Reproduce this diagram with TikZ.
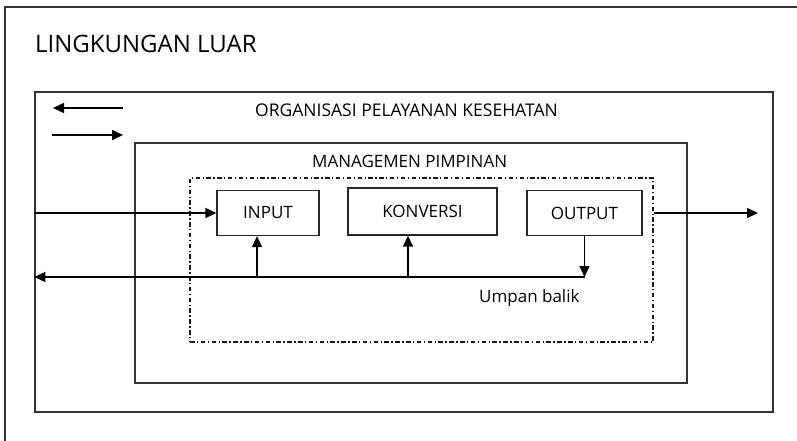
\documentclass[tikz,border=0pt]{standalone}
\usepackage{fontspec}
\setmainfont{Open Sans}
\usetikzlibrary{arrows.meta, positioning, calc}
\tikzset{
	frame/.style={draw=black!80, line width=1.3pt}
}
\tikzset{
	procbox/.style={draw=black!85, line width=1.3pt, inner sep=0pt, font=\fontsize{17}{19}\selectfont}
}
\tikzset{
	flow/.style={line width=1.6pt, -{Triangle[length=11pt,width=10pt]}}
}
\tikzset{
	labeltext/.style={inner sep=0pt, font=\fontsize{17}{19}\selectfont}
}

\begin{document}
\begin{tikzpicture}[x=1pt,y=-1pt]
      \useasboundingbox (0,0) rectangle (797,441);
      % outer environment, cut at the edges
      \draw[frame] (5,441) -- (5,7) -- (797,7);
      \node[labeltext, font=\fontsize{24}{27}\selectfont, anchor=base west] (env) at (35,53) {LINGKUNGAN LUAR};
      % nested frames
      \node[frame, minimum width=738pt, minimum height=320pt] (org) at (404,252) {};
      \node[frame, minimum width=552pt, minimum height=240pt] (mgmt) at (411,263) {};
      \node[draw=black!90, line width=1.2pt, dash pattern=on 4.5pt off 2.5pt on 1.3pt off 2.5pt,
        minimum width=463pt, minimum height=164pt] (proc) at (421.5,260) {};
      \node[labeltext, font=\fontsize{17.5}{20}\selectfont, anchor=base west] (orgname) at (255,117) {ORGANISASI PELAYANAN KESEHATAN};
      \node[labeltext, anchor=base west] (mgmtname) at (312,167) {MANAGEMEN PIMPINAN};
      % process boxes
      \node[procbox, minimum width=102pt, minimum height=45pt] (inp) at (268,213) {INPUT};
      \node[procbox, minimum width=149pt, minimum height=47pt] (konv) at (422.5,211.5) {KONVERSI};
      \node[procbox, minimum width=115pt, minimum height=45pt] (outp) at (584.5,213) {OUTPUT};
      \node[labeltext, anchor=base west] (fbname) at (479,302) {Umpan balik};
      % exchange arrows, top left
      \coordinate (exA) at (123,108);
      \coordinate (exB) at (53,108);
      \coordinate (exC) at (52,135);
      \coordinate (exD) at (123,135);
      \draw[flow] (exA) -- (exB);
      \draw[flow] (exC) -- (exD);
      % flow through the system
      \coordinate (outEnd) at (758,213);
      \coordinate (fbL) at (org.west |- 0,277);
      \draw[flow] (org.west |- inp.west) -- (inp.west);
      \draw[flow] (proc.east |- outEnd) -- (outEnd);
      \draw[flow] (outp.south) -- (outp.south |- fbL);
      \draw[flow] (outp.south |- fbL) -- (fbL);
      \foreach \x/\b in {257/inp, 408/konv}
        \draw[flow] (\x,277) -- (\x,277 |- \b.south);
    \end{tikzpicture}
\end{document}
